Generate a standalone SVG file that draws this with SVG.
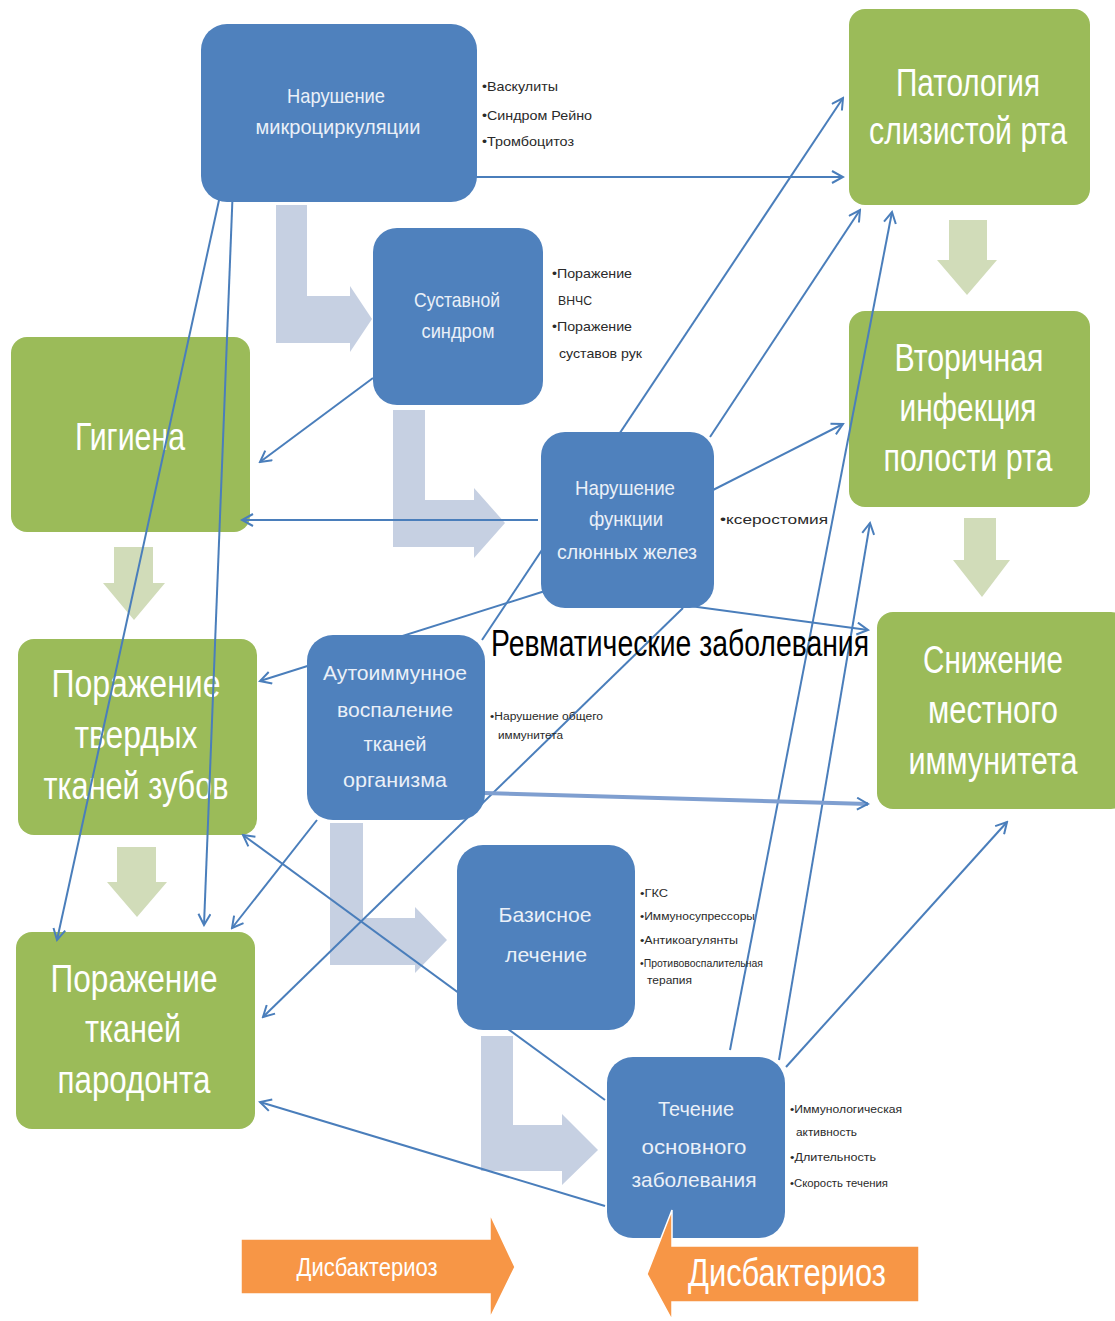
<svg xmlns="http://www.w3.org/2000/svg" width="1115" height="1321" viewBox="0 0 1115 1321">
  <defs>
    <marker id="ah" viewBox="0 0 14 14" markerWidth="14" markerHeight="14" refX="12" refY="7" orient="auto" markerUnits="userSpaceOnUse">
      <path d="M1,1 L12,7 L1,13" fill="none" stroke="#4a7ebb" stroke-width="2"/>
    </marker>
    <style>
      .bn { fill: #4f81bd; }
      .gn { fill: #9bbb59; }
      .bend { fill: #c6d0e2; }
      .down { fill: #d1dcb9; }
      .orng { fill: #f79646; stroke: #ffffff; stroke-width: 1.5; }
      text { font-family: "Liberation Sans", Arial, sans-serif; }
      .gt { fill: #ffffff; font-size: 38px; text-anchor: middle; }
      .bt { fill: #eaf0f8; font-size: 21px; text-anchor: middle; }
      .sm { fill: #2a2a2a; font-size: 13px; }
      .xs { fill: #2a2a2a; font-size: 10px; }
      .cn { stroke: #4a7ebb; stroke-width: 2; fill: none; marker-end: url(#ah); }
      .wide { stroke: #7f9fd0; stroke-width: 4; }
    </style>
  </defs>
  <rect width="1115" height="1321" fill="#ffffff"/>

  <!-- pale bent flow arrows between the blue blocks -->
  <g id="flow-bends">
    <polygon class="bend" points="276,205 307,205 307,296 350,296 350,286 372,319 350,352 350,343 276,343"/>
    <polygon class="bend" points="393,410 425,410 425,500 474,500 474,488 505,523 474,558 474,547 393,547"/>
    <polygon class="bend" points="330,823 363,823 363,918 415,918 415,907 447,940 415,973 415,965 330,965"/>
    <polygon class="bend" points="481,1036 513,1036 513,1125 562,1125 562,1114 598,1150 562,1185 562,1171 481,1171"/>
  </g>

  <!-- pale green down arrows between the green blocks -->
  <g id="flow-down">
    <polygon class="down" points="949,220 987,220 987,260 997,260 967,295 937,260 949,260"/>
    <polygon class="down" points="964,518 996,518 996,560 1010,560 982,597 953,560 964,560"/>
    <polygon class="down" points="114,547 153,547 153,583 165,583 134,620 103,583 114,583"/>
    <polygon class="down" points="117,847 156,847 156,882 167,882 137,917 107,882 117,882"/>
  </g>

  <!-- green blocks: oral consequences -->
  <g id="mucosa">
    <rect class="gn" x="849" y="9" width="241" height="196" rx="16"/>
    <text class="gt" x="968" y="96" textLength="144" lengthAdjust="spacingAndGlyphs">Патология</text>
    <text class="gt" x="968" y="144" textLength="198" lengthAdjust="spacingAndGlyphs">слизистой рта</text>
  </g>
  <g id="secondary-infection">
    <rect class="gn" x="849" y="311" width="241" height="196" rx="16"/>
    <text class="gt" x="969" y="371" textLength="149" lengthAdjust="spacingAndGlyphs">Вторичная</text>
    <text class="gt" x="968" y="421" textLength="137" lengthAdjust="spacingAndGlyphs">инфекция</text>
    <text class="gt" x="968" y="471" textLength="169" lengthAdjust="spacingAndGlyphs">полости рта</text>
  </g>
  <g id="local-immunity">
    <rect class="gn" x="877" y="612" width="250" height="197" rx="16"/>
    <text class="gt" x="993" y="673" textLength="140" lengthAdjust="spacingAndGlyphs">Снижение</text>
    <text class="gt" x="993" y="723" textLength="130" lengthAdjust="spacingAndGlyphs">местного</text>
    <text class="gt" x="993" y="774" textLength="169" lengthAdjust="spacingAndGlyphs">иммунитета</text>
  </g>
  <g id="hygiene">
    <rect class="gn" x="11" y="337" width="239" height="195" rx="16"/>
    <text class="gt" x="130" y="450" textLength="110" lengthAdjust="spacingAndGlyphs">Гигиена</text>
  </g>
  <g id="hard-tissues">
    <rect class="gn" x="18" y="639" width="239" height="196" rx="16"/>
    <text class="gt" x="136" y="697" textLength="169" lengthAdjust="spacingAndGlyphs">Поражение</text>
    <text class="gt" x="136" y="748" textLength="123" lengthAdjust="spacingAndGlyphs">твердых</text>
    <text class="gt" x="136" y="799" textLength="185" lengthAdjust="spacingAndGlyphs">тканей зубов</text>
  </g>
  <g id="periodontium">
    <rect class="gn" x="16" y="932" width="239" height="197" rx="16"/>
    <text class="gt" x="134" y="992" textLength="167" lengthAdjust="spacingAndGlyphs">Поражение</text>
    <text class="gt" x="133" y="1042" textLength="96" lengthAdjust="spacingAndGlyphs">тканей</text>
    <text class="gt" x="134" y="1093" textLength="153" lengthAdjust="spacingAndGlyphs">пародонта</text>
  </g>

  <!-- connectors: drawn over the green blocks, under the blue ones -->
  <g id="connectors">
    <line class="cn" x1="392" y1="177" x2="843" y2="177"/>
    <line class="cn" x1="230" y1="150" x2="57" y2="940"/>
    <line class="cn" x1="233" y1="185" x2="204" y2="925"/>
    <line class="cn" x1="373" y1="378" x2="260" y2="462"/>
    <line class="cn" x1="538" y1="520" x2="242" y2="520"/>
    <line class="cn" x1="713" y1="490" x2="843" y2="424"/>
    <line class="cn" x1="710" y1="437" x2="860" y2="210"/>
    <line class="cn" x1="690" y1="606" x2="868" y2="630"/>
    <line class="cn" x1="545" y1="591" x2="260" y2="681"/>
    <line class="cn" x1="482" y1="640" x2="843" y2="98"/>
    <line class="cn" x1="317" y1="820" x2="232" y2="928"/>
    <line class="cn" x1="683" y1="608" x2="263" y2="1017"/>
    <line class="cn" x1="730" y1="1050" x2="892" y2="212"/>
    <line class="cn" x1="779" y1="1060" x2="870" y2="523"/>
    <line class="cn" x1="786" y1="1067" x2="1007" y2="822"/>
    <line class="cn" x1="605" y1="1206" x2="260" y2="1102"/>
    <line class="cn" x1="605" y1="1100" x2="243" y2="835"/>
    <line class="cn wide" x1="484" y1="793" x2="868" y2="804"/>
  </g>

  <!-- blue blocks: rheumatic disease factors -->
  <g id="microcirculation">
    <rect class="bn" x="201" y="24" width="276" height="178" rx="26"/>
    <text class="bt" x="336" y="103" textLength="98" lengthAdjust="spacingAndGlyphs">Нарушение</text>
    <text class="bt" x="338" y="134" textLength="165" lengthAdjust="spacingAndGlyphs">микроциркуляции</text>
    <text class="sm" x="482" y="91" textLength="76" lengthAdjust="spacingAndGlyphs">•Васкулиты</text>
    <text class="sm" x="482" y="120" textLength="110" lengthAdjust="spacingAndGlyphs">•Синдром  Рейно</text>
    <text class="sm" x="482" y="146" textLength="92" lengthAdjust="spacingAndGlyphs">•Тромбоцитоз</text>
  </g>
  <g id="joint-syndrome">
    <rect class="bn" x="373" y="228" width="170" height="177" rx="24"/>
    <text class="bt" x="457" y="307" textLength="86" lengthAdjust="spacingAndGlyphs">Суставной</text>
    <text class="bt" x="458" y="338" textLength="73" lengthAdjust="spacingAndGlyphs">синдром</text>
    <text class="sm" x="552" y="278" textLength="80" lengthAdjust="spacingAndGlyphs">•Поражение</text>
    <text class="sm" x="558" y="305" textLength="34" lengthAdjust="spacingAndGlyphs">ВНЧС</text>
    <text class="sm" x="552" y="331" textLength="80" lengthAdjust="spacingAndGlyphs">•Поражение</text>
    <text class="sm" x="559" y="358" textLength="83" lengthAdjust="spacingAndGlyphs">суставов рук</text>
  </g>
  <g id="salivary-glands">
    <rect class="bn" x="541" y="432" width="173" height="176" rx="24"/>
    <text class="bt" x="625" y="495" textLength="100" lengthAdjust="spacingAndGlyphs">Нарушение</text>
    <text class="bt" x="626" y="526" textLength="74" lengthAdjust="spacingAndGlyphs">функции</text>
    <text class="bt" x="627" y="559" textLength="140" lengthAdjust="spacingAndGlyphs">слюнных  желез</text>
    <text class="sm" x="720" y="524" textLength="108" lengthAdjust="spacingAndGlyphs">•ксеростомия</text>
  </g>
  <g id="autoimmune">
    <rect class="bn" x="307" y="635" width="178" height="185" rx="26"/>
    <text class="bt" x="395" y="680" textLength="144" lengthAdjust="spacingAndGlyphs">Аутоиммунное</text>
    <text class="bt" x="395" y="717" textLength="116" lengthAdjust="spacingAndGlyphs">воспаление</text>
    <text class="bt" x="395" y="751" textLength="63" lengthAdjust="spacingAndGlyphs">тканей</text>
    <text class="bt" x="395" y="787" textLength="104" lengthAdjust="spacingAndGlyphs">организма</text>
    <text class="xs" x="490" y="720" textLength="113" lengthAdjust="spacingAndGlyphs">•Нарушение общего</text>
    <text class="xs" x="498" y="739" textLength="65" lengthAdjust="spacingAndGlyphs">иммунитета</text>
  </g>
  <g id="basic-therapy">
    <rect class="bn" x="457" y="845" width="178" height="185" rx="26"/>
    <text class="bt" x="545" y="922" textLength="93" lengthAdjust="spacingAndGlyphs">Базисное</text>
    <text class="bt" x="546" y="962" textLength="82" lengthAdjust="spacingAndGlyphs">лечение</text>
    <text class="xs" x="640" y="897" textLength="28" lengthAdjust="spacingAndGlyphs">•ГКС</text>
    <text class="xs" x="640" y="920" textLength="115" lengthAdjust="spacingAndGlyphs">•Иммуносупрессоры</text>
    <text class="xs" x="640" y="944" textLength="98" lengthAdjust="spacingAndGlyphs">•Антикоагулянты</text>
    <text class="xs" x="640" y="967" textLength="123" lengthAdjust="spacingAndGlyphs">•Противовоспалительная</text>
    <text class="xs" x="647" y="984" textLength="45" lengthAdjust="spacingAndGlyphs">терапия</text>
  </g>
  <g id="disease-course">
    <rect class="bn" x="607" y="1057" width="178" height="181" rx="26"/>
    <text class="bt" x="696" y="1116" textLength="76" lengthAdjust="spacingAndGlyphs">Течение</text>
    <text class="bt" x="694" y="1154" textLength="105" lengthAdjust="spacingAndGlyphs">основного</text>
    <text class="bt" x="694" y="1187" textLength="125" lengthAdjust="spacingAndGlyphs">заболевания</text>
    <text class="xs" x="790" y="1113" textLength="112" lengthAdjust="spacingAndGlyphs">•Иммунологическая</text>
    <text class="xs" x="796" y="1136" textLength="61" lengthAdjust="spacingAndGlyphs">активность</text>
    <text class="xs" x="790" y="1161" textLength="86" lengthAdjust="spacingAndGlyphs">•Длительность</text>
    <text class="xs" x="790" y="1187" textLength="98" lengthAdjust="spacingAndGlyphs">•Скорость течения</text>
  </g>

  <!-- dysbacteriosis arrows -->
  <g id="dysbacteriosis-left">
    <polygon class="orng" points="241,1239 490,1239 490,1214 515,1267 490,1318 490,1294 241,1294"/>
    <text x="367" y="1276" fill="#ffffff" font-size="26" text-anchor="middle" textLength="141" lengthAdjust="spacingAndGlyphs">Дисбактериоз</text>
  </g>
  <g id="dysbacteriosis-right">
    <polygon class="orng" points="919,1246 672,1246 672,1210 647,1274 672,1320 672,1302 919,1302"/>
    <text x="787" y="1286" fill="#ffffff" font-size="38" text-anchor="middle" textLength="198" lengthAdjust="spacingAndGlyphs">Дисбактериоз</text>
  </g>

  <text id="title" x="680" y="656" fill="#000000" font-size="36" text-anchor="middle" textLength="378" lengthAdjust="spacingAndGlyphs">Ревматические заболевания</text>
</svg>
